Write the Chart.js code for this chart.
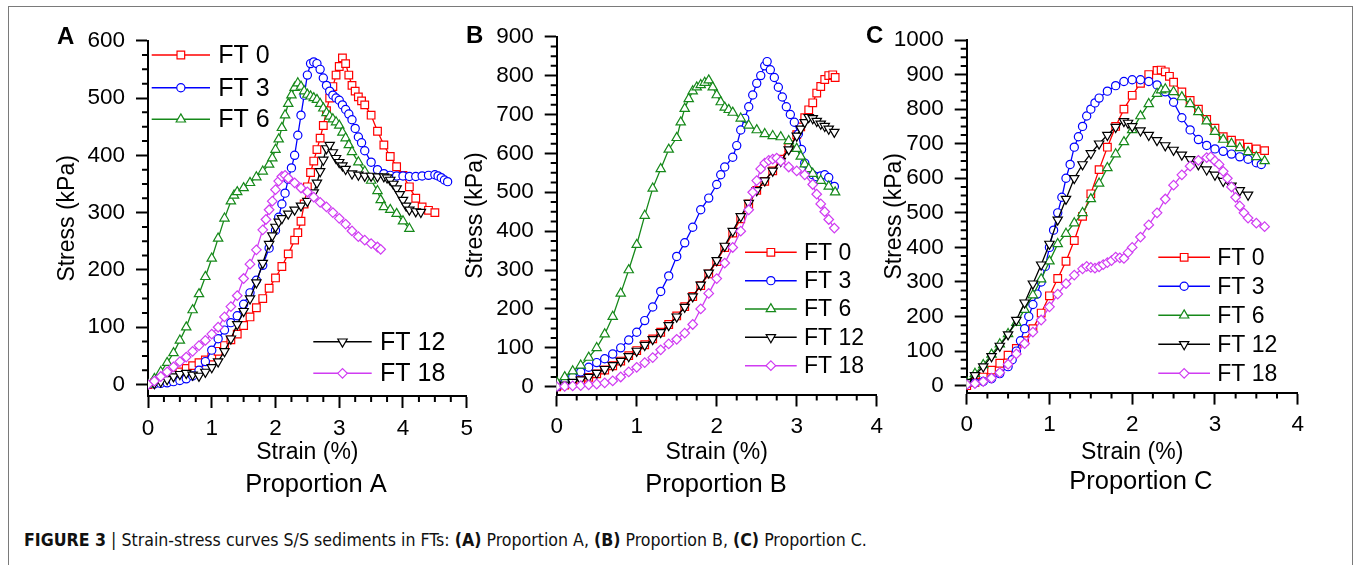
<!DOCTYPE html>
<html>
<head>
<meta charset="utf-8">
<script src="https://cdn.jsdelivr.net/npm/chart.js@4.4.0/dist/chart.umd.min.js"></script>
<style>
  body { margin: 0; background: #fff; width: 1356px; height: 565px; overflow: hidden; position: relative; }
  .frame { position: absolute; left: 8px; top: 6px; width: 1345px; height: 620px; box-sizing: border-box; border: 1.5px solid #7a7a7a; border-bottom: none; }
  canvas { position: absolute; top: 0; }
  #caption { position: absolute; left: 24px; top: 530px; font-family: 'Liberation Sans Narrow', 'DejaVu Sans Condensed', 'Liberation Sans', sans-serif; font-size: 17.6px; color: #111; white-space: nowrap; }
</style>
</head>
<body>
<div class="frame"></div>
<canvas id="chartA" width="480" height="505" style="left:0px"></canvas>
<canvas id="chartB" width="450" height="505" style="left:440px"></canvas>
<canvas id="chartC" width="470" height="505" style="left:850px"></canvas>
<div id="caption"><b>FIGURE 3</b> | Strain-stress curves S/S sediments in FTs: <b>(A)</b> Proportion A, <b>(B)</b> Proportion B, <b>(C)</b> Proportion C.</div>
<script>
const FONT = "'Liberation Sans', Arial, sans-serif";

// series labels and ticks
const seriesLabels = ['FT 0', 'FT 3', 'FT 6', 'FT 12', 'FT 18'];
const xTicksA = [0, 1, 2, 3, 4, 5];
const yTicksA = [0, 100, 200, 300, 400, 500, 600];
const xTicksB = [0, 1, 2, 3, 4];
const yTicksB = [0, 100, 200, 300, 400, 500, 600, 700, 800, 900];
const xTicksC = [0, 1, 2, 3, 4];
const yTicksC = [0, 100, 200, 300, 400, 500, 600, 700, 800, 900, 1000];

// Proportion A
const strainA0 = [0,0.1,0.2,0.3,0.4,0.5,0.6,0.7,0.8,0.9,1.0,1.1,1.2,1.3,1.4,1.5,1.6,1.7,1.8,1.9,2.0,2.1,2.2,2.3,2.35,2.4,2.45,2.5,2.55,2.6,2.65,2.7,2.75,2.8,2.85,2.9,2.95,3.0,3.05,3.1,3.15,3.2,3.25,3.3,3.35,3.4,3.5,3.6,3.7,3.8,3.9,4.0,4.1,4.2,4.3,4.4,4.5];
const stressA0 = [0,3,7,12,17,22,28,33,38,43,48,58,68,78,88,103,118,134,150,168,186,206,228,252,265,285,315,345,370,390,410,430,452,478,500,520,540,555,570,560,540,522,512,502,495,488,470,442,418,398,380,365,345,325,310,304,300];
const strainA3 = [0,0.1,0.2,0.3,0.4,0.5,0.6,0.7,0.8,0.9,1.0,1.1,1.2,1.3,1.4,1.5,1.6,1.7,1.8,1.9,2.0,2.05,2.1,2.15,2.2,2.25,2.3,2.35,2.4,2.45,2.5,2.55,2.6,2.65,2.7,2.75,2.8,2.85,2.9,2.95,3.0,3.05,3.1,3.15,3.2,3.25,3.3,3.35,3.4,3.5,3.6,3.7,3.8,3.9,4.0,4.1,4.2,4.3,4.4,4.5,4.55,4.6,4.65,4.7];
const stressA3 = [0,1,2,3,5,7,10,15,25,40,60,80,95,108,120,140,160,182,208,238,269,292,315,334,358,378,400,435,470,505,540,560,563,560,550,535,522,512,505,500,496,488,480,472,462,447,432,422,408,388,375,368,365,364,364,363,363,364,365,366,364,361,357,354];
const strainA6 = [0,0.1,0.2,0.3,0.4,0.5,0.6,0.7,0.8,0.9,1.0,1.1,1.2,1.3,1.35,1.4,1.5,1.6,1.7,1.8,1.9,1.95,2.0,2.05,2.1,2.15,2.2,2.25,2.3,2.35,2.4,2.45,2.5,2.55,2.6,2.65,2.7,2.75,2.8,2.85,2.9,2.95,3.0,3.05,3.1,3.15,3.2,3.3,3.4,3.5,3.6,3.65,3.7,3.8,3.9,4.0,4.1];
const stressA6 = [0,10,22,38,55,77,100,130,158,188,220,255,290,320,330,336,343,352,362,372,384,395,410,428,448,470,490,505,518,526,520,512,506,503,500,497,490,482,474,468,463,458,452,440,430,418,406,388,372,356,338,322,310,305,298,285,272];
const strainA12 = [0,0.1,0.2,0.3,0.4,0.5,0.6,0.7,0.8,0.9,1.0,1.1,1.2,1.3,1.4,1.5,1.6,1.7,1.8,1.9,1.95,2.0,2.05,2.1,2.2,2.3,2.4,2.5,2.6,2.65,2.7,2.75,2.8,2.85,2.9,2.95,3.0,3.05,3.1,3.2,3.3,3.4,3.5,3.6,3.7,3.75,3.8,3.85,3.9,3.95,4.0,4.05,4.1,4.2,4.28];
const stressA12 = [0,2,5,9,14,18,20,17,15,22,30,40,58,80,105,128,150,178,212,245,260,275,284,290,298,305,312,320,335,352,372,392,412,418,405,395,388,382,376,368,366,364,364,363,363,361,357,350,342,332,322,312,305,302,301];
const strainA18 = [0,0.1,0.2,0.3,0.4,0.5,0.6,0.7,0.8,0.9,1.0,1.1,1.2,1.3,1.4,1.5,1.6,1.7,1.8,1.85,1.9,1.95,2.0,2.05,2.1,2.15,2.2,2.3,2.4,2.5,2.6,2.7,2.8,2.9,3.0,3.1,3.2,3.3,3.4,3.5,3.6,3.65];
const stressA18 = [0,6,14,22,31,40,48,58,68,77,88,100,118,136,155,185,210,235,270,288,305,320,340,355,363,365,360,352,343,336,327,318,310,300,290,280,268,258,252,246,240,236];

// Proportion B
const strainB0 = [0,0.1,0.2,0.3,0.4,0.5,0.6,0.7,0.8,0.9,1.0,1.1,1.2,1.3,1.4,1.5,1.6,1.7,1.8,1.9,2.0,2.1,2.2,2.3,2.4,2.5,2.6,2.7,2.8,2.9,3.0,3.05,3.1,3.15,3.2,3.25,3.3,3.35,3.4,3.45,3.48];
const stressB0 = [0,4,10,17,24,33,43,54,66,80,93,108,123,140,160,182,206,232,260,290,322,358,395,432,470,505,528,555,585,615,648,668,692,712,730,755,772,790,800,802,795];
const strainB3 = [0,0.1,0.2,0.3,0.4,0.5,0.6,0.7,0.8,0.9,1.0,1.1,1.2,1.3,1.4,1.5,1.6,1.7,1.8,1.9,2.0,2.05,2.1,2.2,2.25,2.3,2.35,2.4,2.45,2.5,2.55,2.6,2.63,2.67,2.72,2.77,2.82,2.87,2.92,2.97,3.02,3.06,3.1,3.15,3.2,3.25,3.3,3.35,3.4,3.47];
const stressB3 = [0,10,25,38,50,62,72,84,100,120,140,170,205,245,285,335,370,410,455,485,520,545,565,590,620,660,690,720,750,780,800,825,836,815,795,770,745,720,700,680,650,610,575,555,545,540,542,545,538,515];
const strainB6 = [0,0.1,0.2,0.3,0.4,0.5,0.6,0.7,0.8,0.9,1.0,1.1,1.2,1.3,1.4,1.5,1.55,1.6,1.65,1.7,1.75,1.8,1.85,1.9,1.95,2.0,2.05,2.1,2.15,2.2,2.3,2.4,2.5,2.6,2.7,2.8,2.9,3.0,3.05,3.1,3.15,3.2,3.3,3.4,3.48];
const stressB6 = [12,25,40,55,75,100,135,180,240,300,365,440,510,560,610,640,680,715,740,760,770,776,782,788,770,750,732,718,712,705,690,672,660,650,645,642,632,612,592,572,560,548,530,515,500];
const strainB12 = [0,0.1,0.2,0.3,0.4,0.5,0.6,0.7,0.8,0.9,1.0,1.1,1.2,1.3,1.4,1.5,1.6,1.7,1.8,1.9,2.0,2.1,2.2,2.3,2.4,2.5,2.6,2.7,2.8,2.9,3.0,3.05,3.1,3.15,3.2,3.25,3.3,3.35,3.4,3.47];
const stressB12 = [0,5,12,18,25,35,45,55,66,78,92,107,122,140,158,180,205,232,262,293,325,362,400,438,472,505,530,555,580,610,645,663,680,693,690,683,676,670,663,655];
const strainB18 = [0,0.1,0.2,0.3,0.4,0.5,0.6,0.7,0.8,0.9,1.0,1.1,1.2,1.3,1.4,1.5,1.6,1.7,1.8,1.9,2.0,2.1,2.2,2.3,2.4,2.45,2.5,2.55,2.6,2.65,2.7,2.75,2.8,2.9,3.0,3.1,3.2,3.25,3.3,3.35,3.4,3.47];
const stressB18 = [0,1,2,3,5,7,10,15,25,38,50,62,75,95,110,122,138,160,200,240,278,318,358,400,455,500,530,560,575,582,585,588,580,565,555,545,520,495,470,450,430,408];

// Proportion C
const strainC0 = [0,0.1,0.2,0.3,0.4,0.5,0.6,0.7,0.8,0.9,1.0,1.1,1.2,1.3,1.4,1.5,1.6,1.7,1.8,1.9,2.0,2.1,2.2,2.3,2.35,2.4,2.45,2.5,2.6,2.7,2.8,2.9,3.0,3.1,3.2,3.3,3.4,3.5,3.6];
const stressC0 = [0,10,25,45,65,88,108,130,165,210,260,310,360,420,490,555,625,690,750,800,840,875,900,912,913,908,895,878,850,825,800,770,745,720,710,700,690,685,680];
const strainC3 = [0,0.1,0.2,0.3,0.4,0.5,0.55,0.6,0.65,0.7,0.75,0.8,0.85,0.9,0.95,1.0,1.05,1.1,1.15,1.2,1.25,1.3,1.35,1.4,1.45,1.5,1.55,1.6,1.7,1.8,1.9,2.0,2.1,2.2,2.3,2.4,2.5,2.6,2.7,2.8,2.9,3.0,3.1,3.2,3.3,3.4,3.5,3.56];
const stressC3 = [5,8,12,20,35,55,75,100,130,165,200,235,265,300,345,400,450,500,545,600,640,690,720,750,780,800,818,832,852,868,880,885,885,880,870,850,820,775,740,712,695,685,678,670,662,655,645,640];
const strainC6 = [0,0.1,0.2,0.3,0.4,0.5,0.6,0.7,0.8,0.9,1.0,1.1,1.2,1.3,1.4,1.5,1.6,1.7,1.8,1.9,2.0,2.1,2.2,2.3,2.35,2.4,2.5,2.6,2.7,2.8,2.9,3.0,3.1,3.2,3.3,3.4,3.5,3.6];
const stressC6 = [10,35,60,90,120,150,182,220,262,308,360,410,440,470,500,540,585,630,670,705,740,780,815,845,855,858,850,835,815,792,765,735,712,700,688,676,662,650];
const strainC12 = [0,0.1,0.2,0.3,0.4,0.5,0.6,0.7,0.8,0.9,1.0,1.1,1.2,1.3,1.4,1.5,1.6,1.7,1.8,1.9,1.95,2.0,2.1,2.2,2.3,2.4,2.5,2.6,2.7,2.8,2.9,3.0,3.1,3.2,3.3,3.4];
const stressC12 = [10,30,55,85,115,148,190,240,295,350,410,480,540,600,640,672,700,725,748,765,760,750,738,725,710,695,682,668,655,640,625,610,592,578,565,552];
const strainC18 = [0,0.1,0.2,0.3,0.4,0.5,0.6,0.7,0.8,0.9,1.0,1.1,1.2,1.3,1.4,1.45,1.5,1.55,1.6,1.65,1.7,1.75,1.8,1.85,1.9,1.95,2.0,2.1,2.2,2.3,2.4,2.5,2.6,2.7,2.8,2.9,2.95,3.0,3.05,3.1,3.15,3.2,3.25,3.3,3.35,3.4,3.5,3.6];
const stressC18 = [3,6,12,22,38,62,92,122,155,190,228,265,295,320,338,345,342,340,344,350,356,362,372,370,368,385,400,430,465,500,540,580,610,635,652,660,662,650,640,620,600,575,545,520,500,485,470,460];

// marker styles per series
const seriesColors = ['#ff0000', '#0000ff', '#16891a', '#000000', '#d03cf2'];
const seriesPointStyles = ['rect', 'circle', 'triangle', 'triangle', 'rectRot'];
const seriesPointRotation = [0, 0, 0, 180, 0];
const seriesPointRadius = [5.4, 4.1, 5.4, 5.4, 4.8];

function makeDatasets(strains, stresses) {
  return strains.map((xs, i) => ({
    label: seriesLabels[i],
    data: xs.map((x, j) => ({ x, y: stresses[i][j] })),
    showLine: true,
    borderColor: seriesColors[i],
    borderWidth: 1.3,
    backgroundColor: '#ffffff',
    pointStyle: seriesPointStyles[i],
    pointRotation: seriesPointRotation[i],
    pointRadius: seriesPointRadius[i],
    pointBorderWidth: 1.2,
    pointBorderColor: seriesColors[i],
    pointBackgroundColor: '#ffffff',
    order: strains.length - i,
  }));
}

// minor tick marks (every 0.25 on x, every 25 on y)
const minorTicks = {
  id: 'minorTicks',
  afterDraw(chart) {
    const { ctx, chartArea, scales: { x, y } } = chart;
    ctx.save();
    ctx.strokeStyle = '#000';
    ctx.lineWidth = 2;
    ctx.beginPath();
    for (let k = 1; k * 0.25 < x.max; k++) {
      if (k % 4 === 0) continue;
      const px = x.getPixelForValue(k * 0.25);
      ctx.moveTo(px, chartArea.bottom);
      ctx.lineTo(px, chartArea.bottom + 6);
    }
    for (let v = 25; v < y.max; v += 25) {
      if (v % 100 === 0) continue;
      const py = y.getPixelForValue(v);
      ctx.moveTo(chartArea.left, py);
      ctx.lineTo(chartArea.left - 6, py);
    }
    ctx.stroke();
    ctx.restore();
  },
};

// panel letter, proportion label and in-plot legend
const panelText = {
  id: 'panelText',
  afterDraw(chart, args, opts) {
    const ctx = chart.ctx;
    ctx.save();
    ctx.fillStyle = '#000';
    ctx.textBaseline = 'alphabetic';
    ctx.textAlign = 'left';
    ctx.font = 'bold 24px ' + FONT;
    ctx.fillText(opts.letter, opts.letterX, opts.letterY);
    ctx.textAlign = 'center';
    ctx.textBaseline = 'middle';
    ctx.font = '25.5px ' + FONT;
    ctx.fillText(opts.sub, opts.subX, opts.subY);

    ctx.textAlign = 'left';
    ctx.font = opts.legendFont + 'px ' + FONT;
    opts.legend.forEach((item) => {
      const ds = chart.data.datasets[item.index];
      ctx.strokeStyle = ds.borderColor;
      ctx.lineWidth = 1.5;
      ctx.beginPath();
      ctx.moveTo(item.x1, item.y);
      ctx.lineTo(item.x2, item.y);
      ctx.stroke();
      ctx.fillStyle = '#fff';
      ctx.lineWidth = ds.pointBorderWidth;
      Chart.helpers.drawPoint(ctx, {
        pointStyle: ds.pointStyle,
        rotation: ds.pointRotation,
        radius: ds.pointRadius,
        borderWidth: ds.pointBorderWidth,
      }, (item.x1 + item.x2) / 2, item.y);
      ctx.fillStyle = '#000';
      ctx.fillText(ds.label, item.tx, item.y + 1);
    });
    ctx.restore();
  },
};

function makeChart(id, cfg) {
  return new Chart(document.getElementById(id), {
    type: 'scatter',
    data: { datasets: makeDatasets(cfg.strains, cfg.stresses) },
    options: {
      responsive: false,
      animation: false,
      layout: { padding: cfg.padding },
      plugins: {
        legend: { display: false },
        tooltip: { enabled: false },
        panelText: cfg.text,
      },
      scales: {
        x: {
          type: 'linear',
          min: 0,
          max: cfg.xTicks[cfg.xTicks.length - 1],
          afterBuildTicks: (s) => { s.ticks = cfg.xTicks.map((v) => ({ value: v })); },
          afterFit: (s) => { s.height = cfg.xH; },
          border: { color: '#000', width: 2 },
          grid: { drawOnChartArea: false, drawTicks: true, tickLength: 12, tickWidth: 2, tickColor: '#000' },
          ticks: { color: '#000', font: { family: FONT, size: 22.5 }, padding: 7, maxRotation: 0, autoSkip: false, callback: (v) => String(v) },
          title: { display: true, text: 'Strain (%)', color: '#000', font: { family: FONT, size: 23 }, padding: 0 },
        },
        y: {
          type: 'linear',
          min: -20,
          max: cfg.yTicks[cfg.yTicks.length - 1],
          afterBuildTicks: (s) => { s.ticks = cfg.yTicks.map((v) => ({ value: v })); },
          afterFit: (s) => { s.width = cfg.yW; },
          border: { color: '#000', width: 2 },
          grid: { drawOnChartArea: false, drawTicks: true, tickLength: 12, tickWidth: 2, tickColor: '#000' },
          ticks: { color: '#000', font: { family: FONT, size: 22.5 }, padding: 11, autoSkip: false, callback: (v) => String(v) },
          title: { display: true, text: 'Stress (kPa)', color: '#000', font: { family: FONT, size: 23 }, padding: 0 },
        },
      },
    },
    plugins: [minorTicks, panelText],
  });
}

makeChart('chartA', {
  strains: [strainA0, strainA3, strainA6, strainA12, strainA18],
  stresses: [stressA0, stressA3, stressA6, stressA12, stressA18],
  xTicks: xTicksA, yTicks: yTicksA,
  padding: { left: 54.2, top: 40.7, right: 10, bottom: 38.2 },
  yW: 93.8, xH: 70.8,
  text: {
    letter: 'A', letterX: 57, letterY: 44, sub: 'Proportion A', subX: 316, subY: 485,
    legendFont: 25,
    legend: [
      { index: 0, x1: 151.7, x2: 210, tx: 218.3, y: 55 },
      { index: 1, x1: 151.7, x2: 210, tx: 218.3, y: 87.7 },
      { index: 2, x1: 151.7, x2: 210, tx: 218.3, y: 119.3 },
      { index: 3, x1: 313.3, x2: 371.7, tx: 380, y: 341.7 },
      { index: 4, x1: 313.3, x2: 371.7, tx: 380, y: 373.3 },
    ],
  },
});

makeChart('chartB', {
  strains: [strainB0, strainB3, strainB6, strainB12, strainB18],
  stresses: [stressB0, stressB3, stressB6, stressB12, stressB18],
  xTicks: xTicksB, yTicks: yTicksB,
  padding: { left: 22.2, top: 36.7, right: 10, bottom: 38.2 },
  yW: 94.5, xH: 72.3,
  text: {
    letter: 'B', letterX: 26, letterY: 43, sub: 'Proportion B', subX: 276, subY: 485,
    legendFont: 23,
    legend: [0, 1, 2, 3, 4].map((i) => ({ index: i, x1: 305, x2: 356.7, tx: 364, y: 252.3 + 28.35 * i })),
  },
});

makeChart('chartC', {
  strains: [strainC0, strainC3, strainC6, strainC12, strainC18],
  stresses: [stressC0, stressC3, stressC6, stressC12, stressC18],
  xTicks: xTicksC, yTicks: yTicksC,
  padding: { left: 31.2, top: 40, right: 22.3, bottom: 38.2 },
  yW: 85.5, xH: 74.2,
  text: {
    letter: 'C', letterX: 16, letterY: 43, sub: 'Proportion C', subX: 290.8, subY: 481.7,
    legendFont: 23,
    legend: [0, 1, 2, 3, 4].map((i) => ({ index: i, x1: 308.3, x2: 360, tx: 367.3, y: 257.3 + 29 * i })),
  },
});
</script>
</body>
</html>
